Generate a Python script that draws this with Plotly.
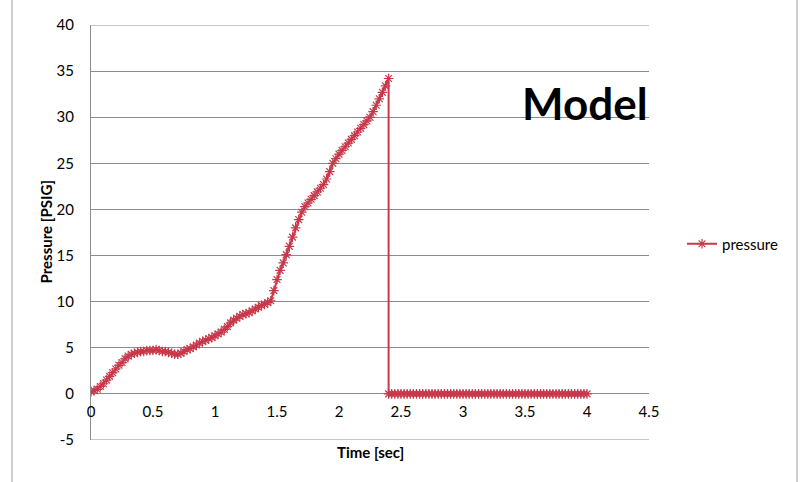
import plotly.graph_objects as go

# Time [sec] values (rising phase, 0.025 s steps) and pressure [PSIG]
time_rise = [
    0.000, 0.025, 0.050, 0.075, 0.100, 0.125, 0.150, 0.175, 0.200, 0.225,
    0.250, 0.275, 0.300, 0.325, 0.350, 0.375, 0.400, 0.425, 0.450, 0.475,
    0.500, 0.525, 0.550, 0.575, 0.600, 0.625, 0.650, 0.675, 0.700, 0.725,
    0.750, 0.775, 0.800, 0.825, 0.850, 0.875, 0.900, 0.925, 0.950, 0.975,
    1.000, 1.025, 1.050, 1.075, 1.100, 1.125, 1.150, 1.175, 1.200, 1.225,
    1.250, 1.275, 1.300, 1.325, 1.350, 1.375, 1.400, 1.425, 1.450, 1.475,
    1.500, 1.525, 1.550, 1.575, 1.600, 1.625, 1.650, 1.675, 1.700, 1.725,
    1.750, 1.775, 1.800, 1.825, 1.850, 1.875, 1.900, 1.925, 1.950, 1.975,
    2.000, 2.025, 2.050, 2.075, 2.100, 2.125, 2.150, 2.175, 2.200, 2.225,
    2.250, 2.275, 2.300, 2.325, 2.350, 2.375, 2.400,
]
pressure_rise = [
    0.25, 0.35, 0.5, 0.8, 1.1, 1.5, 1.9, 2.3, 2.7, 3.1,
    3.4, 3.8, 4.1, 4.3, 4.4, 4.5, 4.6, 4.6, 4.7, 4.7,
    4.7, 4.8, 4.7, 4.6, 4.6, 4.5, 4.4, 4.3, 4.3, 4.4,
    4.6, 4.8, 4.9, 5.1, 5.3, 5.5, 5.7, 5.8, 6.0, 6.1,
    6.3, 6.5, 6.7, 7.0, 7.3, 7.7, 8.0, 8.2, 8.4, 8.6,
    8.7, 8.8, 9.0, 9.2, 9.4, 9.6, 9.7, 9.9, 10.1, 11.2,
    12.4, 13.4, 14.2, 15.1, 16.0, 17.0, 18.0, 18.9, 19.7, 20.3,
    20.7, 21.1, 21.5, 21.9, 22.3, 22.7, 23.3, 24.1, 25.0, 25.5,
    26.0, 26.4, 26.8, 27.2, 27.6, 28.0, 28.4, 28.8, 29.2, 29.6,
    30.0, 30.6, 31.3, 32.0, 32.7, 33.4, 34.2,
]
# after the release: pressure drops to zero
time_after = [
    2.400, 2.425, 2.450, 2.475, 2.500, 2.525, 2.550, 2.575, 2.600, 2.625,
    2.650, 2.675, 2.700, 2.725, 2.750, 2.775, 2.800, 2.825, 2.850, 2.875,
    2.900, 2.925, 2.950, 2.975, 3.000, 3.025, 3.050, 3.075, 3.100, 3.125,
    3.150, 3.175, 3.200, 3.225, 3.250, 3.275, 3.300, 3.325, 3.350, 3.375,
    3.400, 3.425, 3.450, 3.475, 3.500, 3.525, 3.550, 3.575, 3.600, 3.625,
    3.650, 3.675, 3.700, 3.725, 3.750, 3.775, 3.800, 3.825, 3.850, 3.875,
    3.900, 3.925, 3.950, 3.975, 4.000,
]
pressure_after = [
    0, 0, 0, 0, 0, 0, 0, 0, 0, 0,
    0, 0, 0, 0, 0, 0, 0, 0, 0, 0,
    0, 0, 0, 0, 0, 0, 0, 0, 0, 0,
    0, 0, 0, 0, 0, 0, 0, 0, 0, 0,
    0, 0, 0, 0, 0, 0, 0, 0, 0, 0,
    0, 0, 0, 0, 0, 0, 0, 0, 0, 0,
    0, 0, 0, 0, 0,
]

x_ticks = [0, 0.5, 1, 1.5, 2, 2.5, 3, 3.5, 4, 4.5]
x_tick_labels = ["0", "0.5", "1", "1.5", "2", "2.5", "3", "3.5", "4", "4.5"]
y_ticks = [-5, 0, 5, 10, 15, 20, 25, 30, 35, 40]
y_tick_labels = ["-5", "0", "5", "10", "15", "20", "25", "30", "35", "40"]
y_min, y_max = -5, 40

series_name = "pressure"
x_title = "Time [sec]"
y_title = "Pressure [PSIG]"
label_text = "Model"

RED = "#C8384A"
GRID = "#8C8C8C"
FONT = "Lato"

fig = go.Figure()
fig.add_trace(go.Scatter(
    x=time_rise + time_after,
    y=pressure_rise + pressure_after,
    mode="lines+markers",
    name=series_name,
    line=dict(color=RED, width=2),
    marker=dict(symbol="asterisk-open", size=8, color=RED,
                line=dict(color=RED, width=1.2)),
))

L, R, T, B = 91, 152, 25, 42
W, H = 801, 482
pw, ph = W - L - R, H - T - B

fig.update_layout(
    width=W, height=H,
    margin=dict(l=L, r=R, t=T, b=B, autoexpand=False),
    paper_bgcolor="white", plot_bgcolor="white",
    font=dict(family=FONT, size=15, color="#000000"),
    showlegend=True,
    legend=dict(x=(688 - 91 - 6) / pw, y=(440 - 244) / ph, xanchor="left",
                yanchor="middle", font=dict(size=15, family=FONT),
                bgcolor="rgba(0,0,0,0)", itemwidth=30),
    xaxis=dict(
        range=[0, 4.5], tickvals=x_ticks, ticktext=x_tick_labels,
        anchor="free", position=5 / 45,
        showgrid=False, zeroline=False, showline=False,
        ticks="outside", ticklen=4, tickcolor="rgba(0,0,0,0)",
        tickfont=dict(size=15, family=FONT),
    ),
    yaxis=dict(
        range=[y_min, y_max], tickvals=y_ticks, ticktext=y_tick_labels,
        showgrid=True, gridcolor=GRID, gridwidth=1,
        zeroline=True, zerolinecolor=GRID, zerolinewidth=1,
        showline=True, linecolor=GRID, linewidth=1,
        ticks="", ticklabelstandoff=13,
        tickfont=dict(size=15, family=FONT),
    ),
    annotations=[
        dict(text="<b>" + x_title + "</b>", xref="paper", yref="paper",
             x=0.5, y=-(452 - 440) / ph, xanchor="center", yanchor="middle",
             showarrow=False, font=dict(size=15, family=FONT)),
        dict(text="<b>" + y_title + "</b>", xref="paper", yref="paper",
             x=-(91 - 45) / pw, y=0.5, xanchor="center", yanchor="middle",
             textangle=-90, showarrow=False, font=dict(size=15, family=FONT)),
        dict(text="<b>" + label_text + "</b>", xref="paper", yref="paper",
             x=(585 - 91) / pw, y=(440 - 103) / ph, xanchor="center",
             yanchor="middle", showarrow=False,
             font=dict(size=44, family=FONT)),
    ],
    shapes=[
        dict(type="line", xref="paper", yref="paper",
             x0=(12 - 91) / pw, x1=(12 - 91) / pw, y0=-0.2, y1=1.2,
             line=dict(color="#A0A0A0", width=1)),
        dict(type="line", xref="paper", yref="paper",
             x0=(797 - 91) / pw, x1=(797 - 91) / pw, y0=-0.2, y1=1.2,
             line=dict(color="#A0A0A0", width=1)),
        # gridlines at the top and bottom edges of the value axis
        dict(type="line", xref="paper", yref="y", x0=0, x1=1,
             y0=y_max, y1=y_max, layer="below",
             line=dict(color=GRID, width=1)),
        dict(type="line", xref="paper", yref="y", x0=0, x1=1,
             y0=y_min, y1=y_min, layer="below",
             line=dict(color=GRID, width=1)),
    ],
)

fig.write_html("out.html",
               config={"displayModeBar": False},
               post_script="document.body.style.margin='0';"
                           "document.body.style.padding='0';")
